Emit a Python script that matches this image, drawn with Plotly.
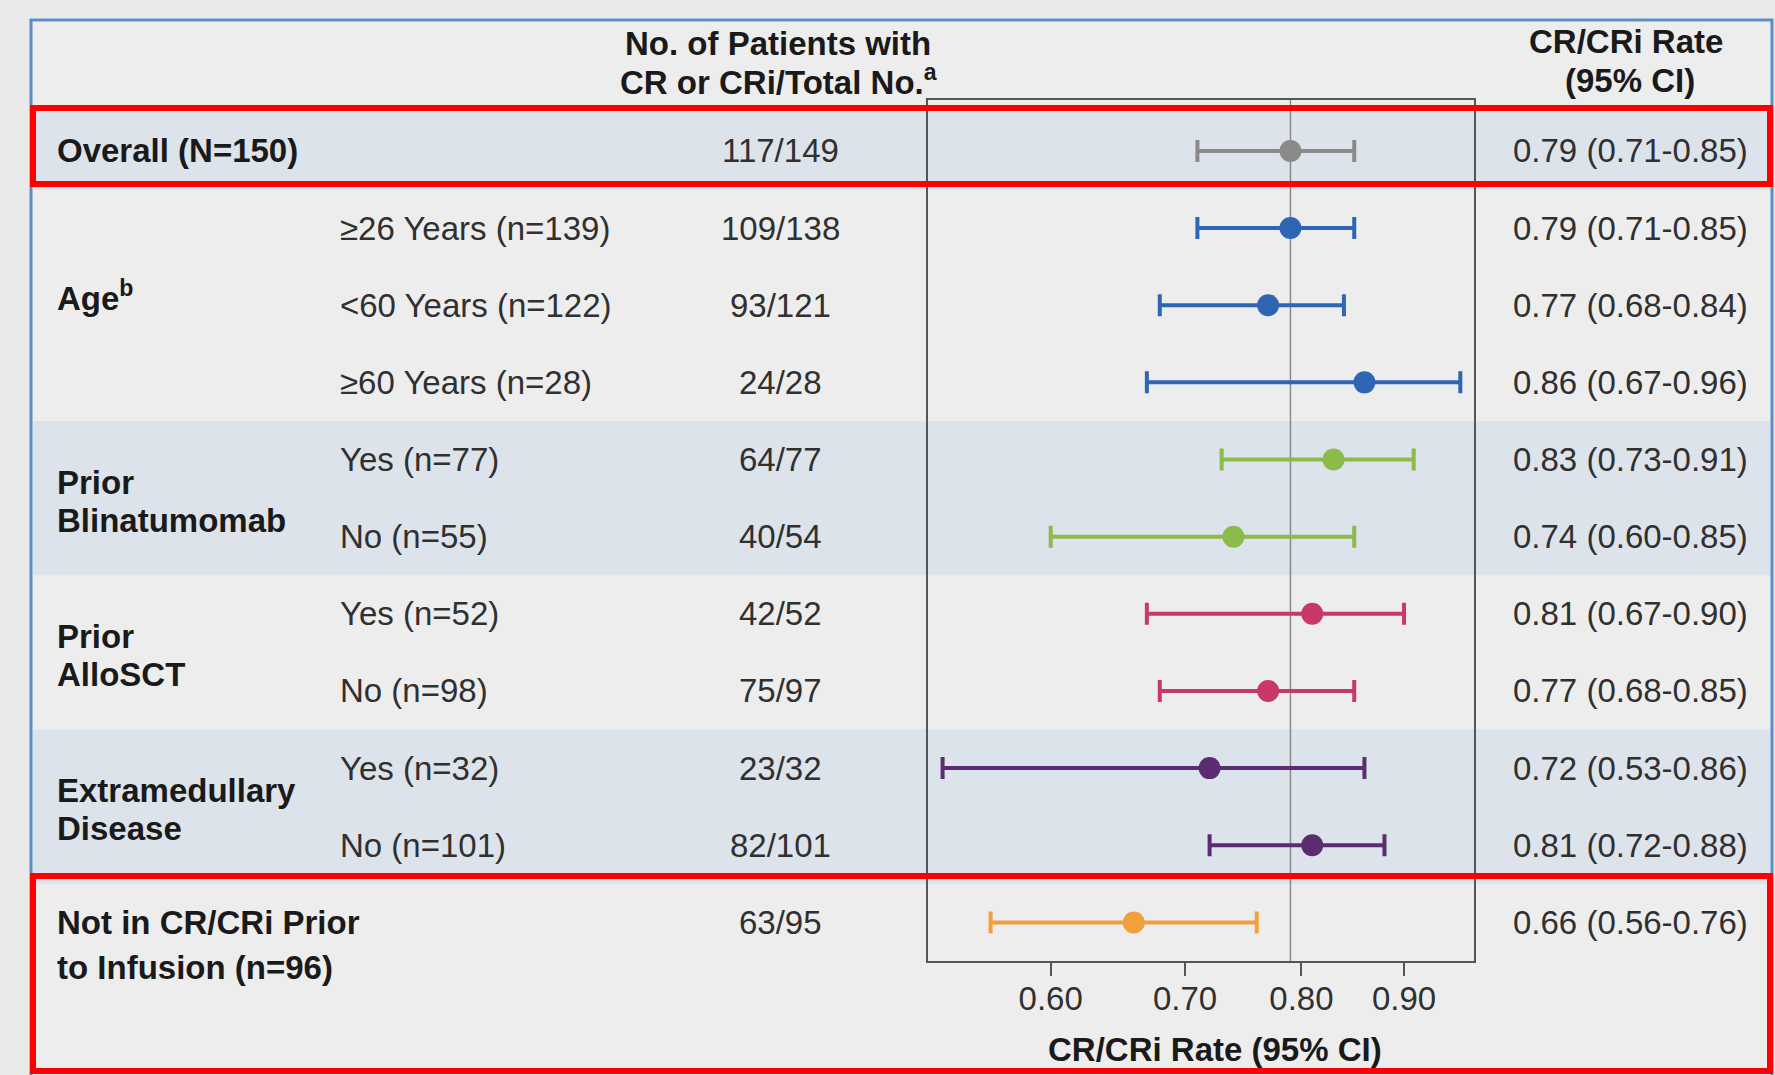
import plotly.graph_objects as go

# ---------------- data ----------------
group_labels = ["Overall (N=150)", "Age<sup>b</sup>", "Prior|Blinatumomab", "Prior|AlloSCT",
                "Extramedullary|Disease", "Not in CR/CRi Prior|to Infusion (n=96)"]
row_group = [0, 1, 1, 1, 2, 2, 3, 3, 4, 4, 5]
subgroup_labels = ["", "≥26 Years (n=139)", "<60 Years (n=122)", "≥60 Years (n=28)",
                   "Yes (n=77)", "No (n=55)", "Yes (n=52)", "No (n=98)",
                   "Yes (n=32)", "No (n=101)", ""]
counts = ["117/149", "109/138", "93/121", "24/28", "64/77", "40/54",
          "42/52", "75/97", "23/32", "82/101", "63/95"]
rate = [0.79, 0.79, 0.77, 0.86, 0.83, 0.74, 0.81, 0.77, 0.72, 0.81, 0.66]
ci_low = [0.71, 0.71, 0.68, 0.67, 0.73, 0.60, 0.67, 0.68, 0.53, 0.72, 0.56]
ci_high = [0.85, 0.85, 0.84, 0.96, 0.91, 0.85, 0.90, 0.85, 0.86, 0.88, 0.76]
ref_value = 0.79
tick_vals = [0.60, 0.70, 0.80, 0.90]
tick_text = ["0.60", "0.70", "0.80", "0.90"]

# ---------------- style ----------------
W, H = 1775, 1075
group_colors = ["#8a8a8a", "#2f66b3", "#8bbb4b", "#c8386a", "#5b2d70", "#f0a03c"]
FONT = "Liberation Sans, Arial, Helvetica, sans-serif"
BOLD_C = "#1a1a1a"
REG_C = "#303030"
FS = 33
band_blue = "#dce3ea"
panel_light = "#ededed"

def px(y):  # paper y from pixel (top-down)
    return 1 - y / H

def pxx(x):
    return x / W

fig = go.Figure()

# reference line
fig.add_trace(go.Scatter(x=[ref_value, ref_value], y=[-0.66, 10.5], mode="lines",
                         line=dict(color="#8a8a8a", width=1.5), hoverinfo="skip",
                         showlegend=False))

for i in range(len(rate)):
    c = group_colors[row_group[i]]
    fig.add_trace(go.Scatter(
        x=[rate[i]], y=[i], mode="markers",
        marker=dict(size=22, color=c, line=dict(width=0)),
        error_x=dict(type="data", symmetric=False,
                     array=[ci_high[i] - rate[i]], arrayminus=[rate[i] - ci_low[i]],
                     color=c, thickness=4, width=11),
        showlegend=False))

shapes = []
# panel fill and border
shapes.append(dict(type="rect", xref="paper", yref="paper", x0=pxx(31), x1=pxx(1772),
                   y0=px(1080), y1=px(20), fillcolor=panel_light,
                   line=dict(color="#5b8fc4", width=3), layer="below"))
# blue bands
for (r0, r1) in [(-0.5, 0.5), (3.5, 5.5), (7.5, 9.5)]:
    shapes.append(dict(type="rect", xref="paper", yref="y", x0=pxx(33), x1=pxx(1770),
                       y0=r0, y1=r1, fillcolor=band_blue, line=dict(width=0), layer="below"))
# red highlight boxes
for (y0, y1) in [(108, 184), (876, 1071)]:
    shapes.append(dict(type="rect", xref="paper", yref="paper", x0=pxx(33), x1=pxx(1770),
                       y0=px(y1), y1=px(y0), fillcolor="rgba(0,0,0,0)",
                       line=dict(color="#ff0000", width=6), layer="above"))

ann = []
def add_text(text, x, y, yref="y", xanchor="left", bold=False, yshift=0, size=FS):
    ann.append(dict(text=("<b>%s</b>" % text) if bold else text, x=pxx(x), y=y,
                    xref="paper", yref=yref, xanchor=xanchor, yanchor="middle",
                    showarrow=False, yshift=yshift,
                    font=dict(family=FONT, size=size, color=BOLD_C if bold else REG_C)))

# headers
add_text("No. of Patients with", 778, px(43), yref="paper", xanchor="center", bold=True)
add_text("CR or CRi/Total No.<sup>a</sup>", 778, px(80), yref="paper", xanchor="center", bold=True)
add_text("CR/CRi Rate", 1626, px(42), yref="paper", xanchor="center", bold=True)
add_text("(95% CI)", 1630, px(80), yref="paper", xanchor="center", bold=True)
add_text("CR/CRi Rate (95% CI)", 1215, px(1049), yref="paper", xanchor="center", bold=True)

# group labels
group_pos = [(0, [0]), (2, [9]), (4.5, [16, -22]), (6.5, [16, -22]), (8.5, [16, -22]), (10, [0, -45])]
for g, lab in enumerate(group_labels):
    yrow, shifts = group_pos[g]
    for line, sh in zip(lab.split("|"), shifts):
        add_text(line, 55, yrow, bold=True, yshift=sh)

# row texts
for i in range(len(rate)):
    if subgroup_labels[i]:
        add_text(subgroup_labels[i], 338, i)
    add_text(counts[i], 780, i, xanchor="center")
    add_text("%.2f (%.2f-%.2f)" % (rate[i], ci_low[i], ci_high[i]), 1630, i, xanchor="center")

fig.update_layout(
    width=W, height=H, margin=dict(l=0, r=0, t=0, b=0),
    paper_bgcolor="#eaeaea", plot_bgcolor="rgba(0,0,0,0)",
    shapes=shapes, annotations=ann, showlegend=False,
    xaxis=dict(type="log", range=[-0.2830, -0.0109], domain=[pxx(928), pxx(1474)],
               showgrid=False, zeroline=False, showline=True, mirror=True,
               linecolor="#555555", linewidth=2, ticks="outside", ticklen=13,
               tickwidth=2, tickcolor="#555555", tickvals=tick_vals, ticktext=tick_text,
               ticklabelstandoff=-6,
               tickfont=dict(family=FONT, size=FS, color=REG_C)),
    yaxis=dict(range=[10.5, -0.66], domain=[px(961), px(100)], showgrid=False,
               zeroline=False, showline=True, mirror=True, linecolor="#555555",
               linewidth=2, showticklabels=False, ticks=""),
)

fig.write_html("out.html")
